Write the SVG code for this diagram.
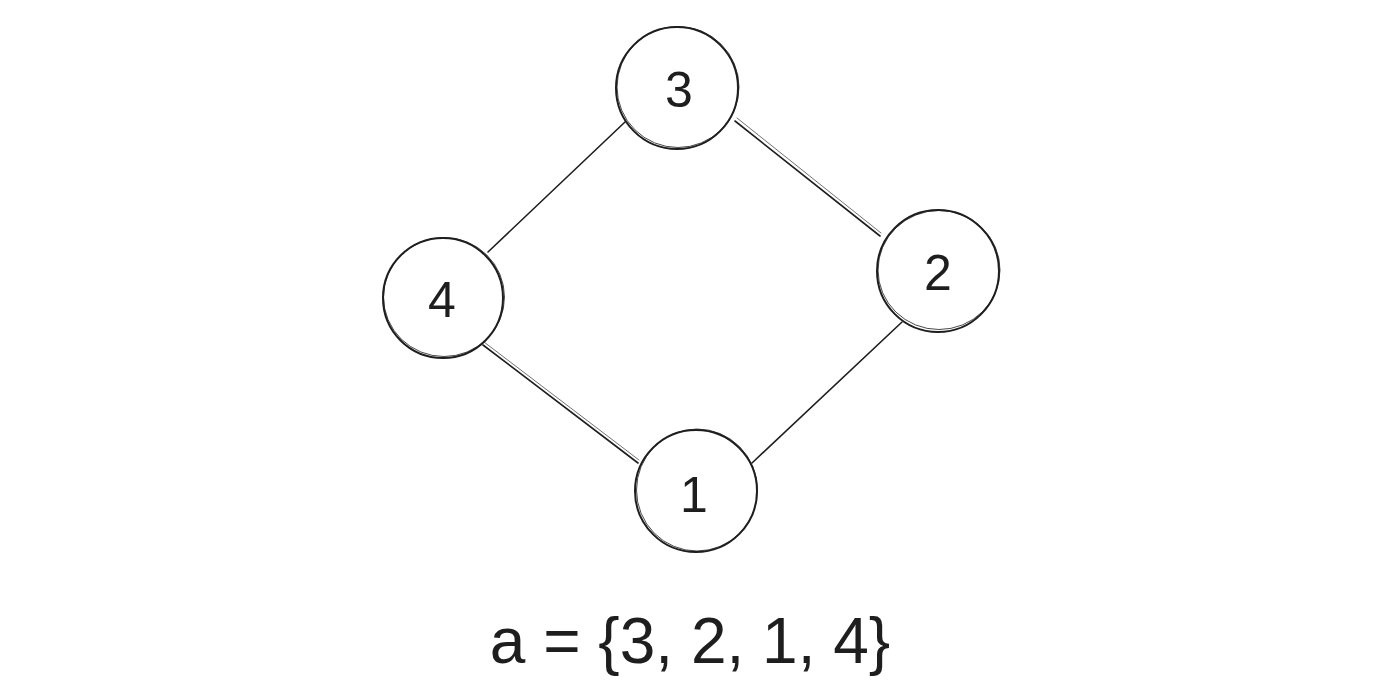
<svg xmlns="http://www.w3.org/2000/svg" width="1386" height="700" viewBox="0 0 1386 700">
<style>
.bg{fill:#ffffff}
.node{fill:none;stroke:#1e1e1e;stroke-width:2;stroke-linecap:round}
.node2{fill:none;stroke:#1e1e1e;stroke-width:1;opacity:0.8}
.edge{stroke:#1e1e1e;stroke-width:1.6;stroke-linecap:round;fill:none}
.edge2{stroke:#1e1e1e;stroke-width:0.9;stroke-linecap:round;fill:none;opacity:0.7}
.lbl{font-family:"Liberation Sans",Arial,sans-serif;font-size:50px;fill:#1e1e1e;text-anchor:middle;dominant-baseline:central}
.eq{font-family:"Liberation Sans",Arial,sans-serif;font-size:64px;fill:#1e1e1e;text-anchor:middle}
</style>
<rect class="bg" x="0" y="0" width="1386" height="700"/>
<g id="connectors">
<path class="edge" d="M625,122 L488,252"/>
<path class="edge" d="M735,121 L880,236"/>
<path class="edge2" d="M737,118 L881,233"/>
<path class="edge" d="M902,322 L752,463"/>
<path class="edge" d="M483,345 L638,463"/>
<path class="edge2" d="M484,342 L639,460"/>
</g>
<g id="node-3">
<circle class="node" cx="677" cy="88" r="61"/>
<ellipse class="node2" cx="678" cy="87" rx="61" ry="60.5"/>
<text class="lbl" x="679" y="90">3</text>
</g>
<g id="node-4">
<circle class="node" cx="443" cy="298" r="60"/>
<ellipse class="node2" cx="444" cy="297" rx="60.5" ry="59.5"/>
<text class="lbl" x="442" y="300">4</text>
</g>
<g id="node-2">
<circle class="node" cx="938" cy="271" r="61"/>
<ellipse class="node2" cx="939" cy="270" rx="61" ry="59.5"/>
<text class="lbl" x="938" y="273">2</text>
</g>
<g id="node-1">
<circle class="node" cx="696" cy="491" r="61"/>
<ellipse class="node2" cx="697" cy="490" rx="60.5" ry="61"/>
<text class="lbl" x="694" y="495">1</text>
</g>
<g id="formula">
<text class="eq" x="690" y="663">a = {3, 2, 1, 4}</text>
</g>
</svg>
